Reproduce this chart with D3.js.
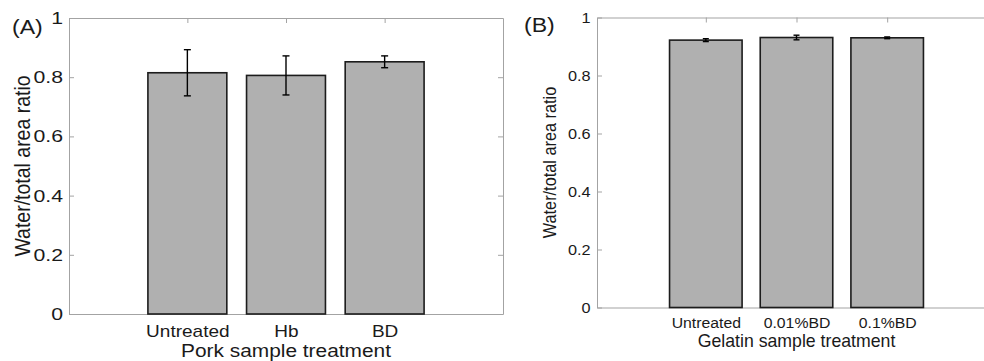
<!DOCTYPE html>
<html>
<head>
<meta charset="utf-8">
<script src="https://cdn.jsdelivr.net/npm/d3@7"></script>
<style>
  body { margin: 0; background: #fff; }
  svg { display: block; font-family: "Liberation Sans", Arial, Helvetica, sans-serif; }
</style>
</head>
<body>
<div id="chart"></div>
<script>
// values
const catsA = ["Untreated", "Hb", "BD"];
const meanA = [0.815, 0.806, 0.852];
const errA = [0.078, 0.066, 0.020];

const catsB = ["Untreated", "0.01%BD", "0.1%BD"];
const meanB = [0.922, 0.931, 0.930];
const errB = [0.005, 0.008, 0.003];

const yTicks = [0, 0.2, 0.4, 0.6, 0.8, 1];

const svg = d3.select('#chart')
    .append('svg')
    .attr('width', 984)
    .attr('height', 361);

const axisColor = '#a3a3a3';
const textColor = '#1a1a1a';

// the source picture is a bit stretched sideways, so text gets a scaleX
function stretch(sel, sx) {
    sel.each(function () {
        const t = d3.select(this);
        const x = +t.attr('x') || 0;
        t.attr('x', 0).attr('transform', `translate(${x},0) scale(${sx},1)`);
    });
}

function drawPanel(p) {
    const x = d3.scaleLinear().domain([-0.2, 4.2]).range([p.left, p.right]);
    const y = d3.scaleLinear().domain([0, 1]).range([p.bottom, p.top]);
    const g = svg.append('g');

    // axes, MATLAB style ticks pointing inward
    const left = g.append('g')
        .attr('transform', `translate(${p.left},0)`)
        .call(d3.axisLeft(y).tickValues(yTicks).tickFormat(d3.format('~g'))
            .tickSizeInner(-5).tickSizeOuter(0).tickPadding(p.yPad));
    const bottom = g.append('g')
        .attr('transform', `translate(0,${p.bottom})`)
        .call(d3.axisBottom(x).tickValues([1, 2, 3]).tickFormat((d, i) => p.cats[i])
            .tickSizeInner(-5).tickSizeOuter(0).tickPadding(p.xPad));
    g.append('g')
        .attr('transform', `translate(0,${p.top})`)
        .call(d3.axisTop(x).tickValues([1, 2, 3]).tickFormat('')
            .tickSizeInner(-5).tickSizeOuter(0));
    g.append('g')
        .attr('transform', `translate(${p.right},0)`)
        .call(d3.axisRight(y).tickValues(yTicks).tickFormat('')
            .tickSizeInner(-5).tickSizeOuter(0));

    g.selectAll('.domain, .tick line').attr('stroke', axisColor).attr('stroke-width', 1);
    left.selectAll('text').attr('font-size', p.yFont).attr('fill', textColor).attr('font-family', null);
    bottom.selectAll('text').attr('font-size', p.xFont).attr('fill', textColor).attr('font-family', null);
    stretch(left.selectAll('text'), p.ySx);
    stretch(bottom.selectAll('text'), p.xSx);

    // bars
    g.selectAll('.bar')
        .data(p.mean)
        .enter()
        .append('rect')
        .attr('class', 'bar')
        .attr('x', (d, i) => x(i + 1 - 0.4))
        .attr('y', d => y(d))
        .attr('width', (d, i) => x(i + 1 + 0.4) - x(i + 1 - 0.4))
        .attr('height', d => p.bottom - y(d))
        .attr('fill', '#b0b0b0')
        .attr('stroke', '#1c1c1c')
        .attr('stroke-width', 1.6);

    // error bars
    const eb = g.selectAll('.err')
        .data(p.mean.map((m, i) => ({ i: i + 1, lo: m - p.err[i], hi: m + p.err[i] })))
        .enter()
        .append('g')
        .attr('class', 'err')
        .attr('stroke', '#000')
        .attr('stroke-width', 1.4);
    eb.append('line')
        .attr('x1', d => x(d.i)).attr('x2', d => x(d.i))
        .attr('y1', d => y(d.lo)).attr('y2', d => y(d.hi));
    eb.append('line')
        .attr('x1', d => x(d.i) - p.cap).attr('x2', d => x(d.i) + p.cap)
        .attr('y1', d => y(d.lo)).attr('y2', d => y(d.lo));
    eb.append('line')
        .attr('x1', d => x(d.i) - p.cap).attr('x2', d => x(d.i) + p.cap)
        .attr('y1', d => y(d.hi)).attr('y2', d => y(d.hi));

    // x title
    g.append('text')
        .attr('transform', `translate(${(p.left + p.right) / 2},${p.xTitleY}) scale(${p.xTitleSx},1)`)
        .attr('text-anchor', 'middle')
        .attr('font-size', p.xTitleFont)
        .attr('fill', textColor)
        .text(p.xTitle);

    // y title
    g.append('text')
        .attr('transform', `translate(${p.yTitleX},${(p.top + p.bottom) / 2}) scale(${p.yTitleSx},1) rotate(-90)`)
        .attr('text-anchor', 'middle')
        .attr('font-size', p.yTitleFont)
        .attr('fill', textColor)
        .text('Water/total area ratio');

    // panel letter
    g.append('text')
        .attr('transform', `translate(${p.tagX},${p.tagY}) scale(1.1,1)`)
        .attr('font-size', 21)
        .attr('fill', textColor)
        .text(p.tag);
}

drawPanel({
    cats: catsA, mean: meanA, err: errA,
    left: 69, right: 503, top: 18, bottom: 314,
    yPad: 6, yFont: 17, ySx: 1.25,
    xPad: 11, xFont: 17, xSx: 1.12,
    cap: 3.5,
    xTitle: 'Pork sample treatment', xTitleY: 356.5, xTitleFont: 18.5, xTitleSx: 1.13,
    yTitleX: 30, yTitleFont: 19.5, yTitleSx: 1.15,
    tag: '(A)', tagX: 12, tagY: 34
});

drawPanel({
    cats: catsB, mean: meanB, err: errB,
    left: 597, right: 996, top: 17.5, bottom: 307.5,
    yPad: 6.5, yFont: 15.5, ySx: 1.05,
    xPad: 9, xFont: 15.5, xSx: 1.02,
    cap: 3,
    xTitle: 'Gelatin sample treatment', xTitleY: 346.5, xTitleFont: 17.7, xTitleSx: 1.0,
    yTitleX: 556, yTitleFont: 16.3, yTitleSx: 1.1,
    tag: '(B)', tagX: 524, tagY: 32
});
</script>
</body>
</html>
